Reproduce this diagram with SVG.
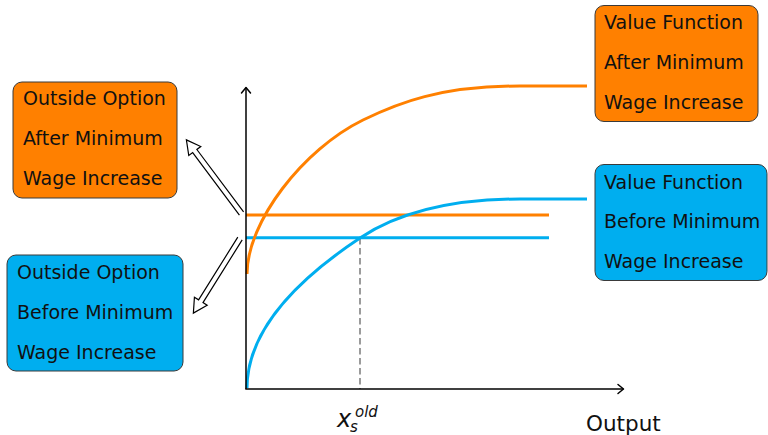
<svg xmlns="http://www.w3.org/2000/svg" width="768" height="435" viewBox="0 0 768 435">
<style>
.box-o{fill:#FF8000;stroke:#3a3a3a;stroke-width:1}
.box-b{fill:#00AEEF;stroke:#3a3a3a;stroke-width:1}
.lbl{font-family:"DejaVu Sans",sans-serif;font-size:19px;fill:#111}
.ax{stroke:#000;stroke-width:1.5;fill:none}
.ah{stroke:#000;stroke-width:1.5;fill:none;stroke-linecap:round;stroke-linejoin:round}
.co{stroke:#FF8000;stroke-width:3;fill:none}
.cb{stroke:#00AEEF;stroke-width:3;fill:none}
.dash{stroke:#666;stroke-width:1.3;stroke-dasharray:6.5,3.5;fill:none}
.dbl{fill:#fff;stroke:#000;stroke-width:1.2;stroke-linejoin:miter}
.math{font-family:"DejaVu Sans",sans-serif;font-style:italic;fill:#111}
.axl{font-family:"DejaVu Sans",sans-serif;font-size:21.5px;fill:#111}
</style>

<g id="plot">
  <line class="co" x1="246" y1="215" x2="549" y2="215"/>
  <line class="cb" x1="246" y1="237.7" x2="549" y2="237.7"/>
  <line class="dash" x1="360" y1="238" x2="360" y2="389"/>
  <path id="orange-curve" class="co" d="M247,274 C247,222 303,149.4 363,120 C398,102.9 440,86 520,86 L587,86"/>
  <path id="blue-curve" class="cb" d="M247,388 Q247,313 360,238 C390,218.1 440,199 520,199 L587,199"/>
  <line class="ax" x1="246" y1="389" x2="246" y2="87.5"/>
  <line class="ax" x1="245.3" y1="389" x2="623.5" y2="389"/>
  <polyline class="ah" points="241.5,93 246,87.5 250.5,93"/>
  <polyline class="ah" points="618,384.5 623.5,389 618,393.5"/>
  <text class="math" x="337" y="427" font-size="24">x</text>
  <text class="math" x="350" y="431.5" font-size="15">s</text>
  <text class="math" x="355" y="417" font-size="15">old</text>
  <text class="axl" x="586" y="431">Output</text>
</g>

<g id="connectors">
  <path class="dbl" transform="translate(241.5,213.5) rotate(-126.8)" d="M0,-2.6 L78,-2.6 L78,-7.5 L92,0 L78,7.5 L78,2.6 L0,2.6"/>
  <path class="dbl" transform="translate(240,238.5) rotate(122)" d="M0,-2.6 L74,-2.6 L74,-7.5 L88,0 L74,7.5 L74,2.6 L0,2.6"/>
</g>

<g id="outside-after">
  <rect class="box-o" x="13" y="82" width="164" height="116" rx="9"/>
  <text class="lbl" x="23" y="105">Outside Option</text>
  <text class="lbl" x="23" y="145">After Minimum</text>
  <text class="lbl" x="23" y="185">Wage Increase</text>
</g>

<g id="outside-before">
  <rect class="box-b" x="7" y="255" width="176" height="116" rx="9"/>
  <text class="lbl" x="17" y="279">Outside Option</text>
  <text class="lbl" x="17" y="319">Before Minimum</text>
  <text class="lbl" x="17" y="359">Wage Increase</text>
</g>

<g id="value-after">
  <rect class="box-o" x="595" y="5.5" width="163" height="116" rx="9"/>
  <text class="lbl" x="604" y="29">Value Function</text>
  <text class="lbl" x="604" y="69">After Minimum</text>
  <text class="lbl" x="604" y="108.5">Wage Increase</text>
</g>

<g id="value-before">
  <rect class="box-b" x="595" y="164.5" width="172" height="116" rx="9"/>
  <text class="lbl" x="604" y="188.5">Value Function</text>
  <text class="lbl" x="604" y="228">Before Minimum</text>
  <text class="lbl" x="604" y="268">Wage Increase</text>
</g>
</svg>
